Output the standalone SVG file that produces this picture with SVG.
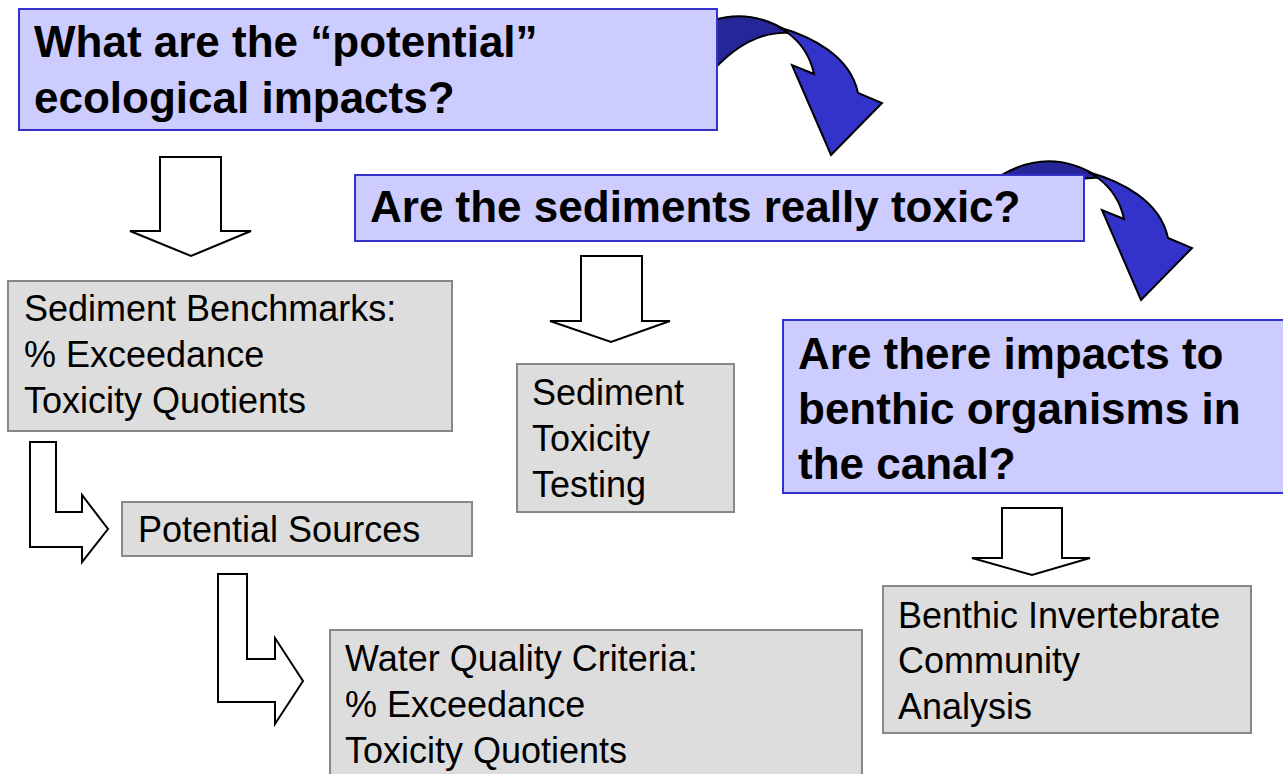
<svg xmlns="http://www.w3.org/2000/svg" xmlns:xlink="http://www.w3.org/1999/xlink" width="1283" height="774" viewBox="0 0 1283 774">
<style>
.q{fill:#CCCCFF;stroke:#3333CC;stroke-width:2}
.g{fill:#DDDDDD;stroke:#888888;stroke-width:2}
.qt{font-family:"Liberation Sans",Arial,sans-serif;font-weight:bold;font-size:44px;fill:#000}
.gt{font-family:"Liberation Sans",Arial,sans-serif;font-size:36px;fill:#000}
.ba{fill:#FFFFFF;stroke:#000;stroke-width:2;stroke-linejoin:miter}
.dk{fill:#262699;stroke:#000;stroke-width:2}
.fr{fill:#3333CC;stroke:#000;stroke-width:2;stroke-linejoin:miter}
</style>
<defs>
<g id="curl">
<path class="dk" d="M688,32 Q740,0 790,33 Q745,30 705,80 Z"/>
<path class="fr" d="M778,27 C810,36 850,55 858,93 L882,103 L831,155 L792,65 L814,74 C810,55 800,42 788,33 Z"/>
</g>
</defs>
<g id="connectors">
<use xlink:href="#curl"/>
<use xlink:href="#curl" transform="translate(310,145)"/>
<polygon class="ba" points="160,157 221,157 221,231 251,231 191,256 130,231 160,231"/>
<polygon class="ba" points="581,256 642,256 642,321 670,321 611,342 550,321 581,321"/>
<polygon class="ba" points="1002,508 1062,508 1062,558 1090,558 1032,575 972,558 1002,558"/>
<polygon class="ba" points="30,442 56,442 56,512 82,512 82,495 108,529 82,562 82,547 30,547"/>
<polygon class="ba" points="218,574 247,574 247,659 275,659 275,638 303,681 275,724 275,702 218,702"/>
</g>
<g id="q1">
<rect class="q" x="19" y="9" width="698" height="121"/>
<text class="qt" x="34" y="57">What are the “potential”</text>
<text class="qt" x="34" y="113">ecological impacts?</text>
</g>
<g id="q2">
<rect class="q" x="355" y="175" width="729" height="66"/>
<text class="qt" x="370" y="222">Are the sediments really toxic?</text>
</g>
<g id="q3">
<rect class="q" x="783" y="320" width="502" height="173"/>
<text class="qt" x="798" y="369">Are there impacts to</text>
<text class="qt" x="798" y="424">benthic organisms in</text>
<text class="qt" x="798" y="479">the canal?</text>
</g>
<g id="bench">
<rect class="g" x="8" y="281" width="444" height="150"/>
<text class="gt" x="24" y="321">Sediment Benchmarks:</text>
<text class="gt" x="24" y="367">% Exceedance</text>
<text class="gt" x="24" y="413">Toxicity Quotients</text>
</g>
<g id="sources">
<rect class="g" x="122" y="502" width="350" height="54"/>
<text class="gt" x="138" y="542">Potential Sources</text>
</g>
<g id="toxtest">
<rect class="g" x="517" y="364" width="217" height="148"/>
<text class="gt" x="532" y="405">Sediment</text>
<text class="gt" x="532" y="451">Toxicity</text>
<text class="gt" x="532" y="497">Testing</text>
</g>
<g id="wqc">
<rect class="g" x="330" y="630" width="532" height="150"/>
<text class="gt" x="345" y="671">Water Quality Criteria:</text>
<text class="gt" x="345" y="717">% Exceedance</text>
<text class="gt" x="345" y="763">Toxicity Quotients</text>
</g>
<g id="benthic">
<rect class="g" x="883" y="586" width="368" height="147"/>
<text class="gt" x="898" y="628">Benthic Invertebrate</text>
<text class="gt" x="898" y="673">Community</text>
<text class="gt" x="898" y="719">Analysis</text>
</g>
</svg>
